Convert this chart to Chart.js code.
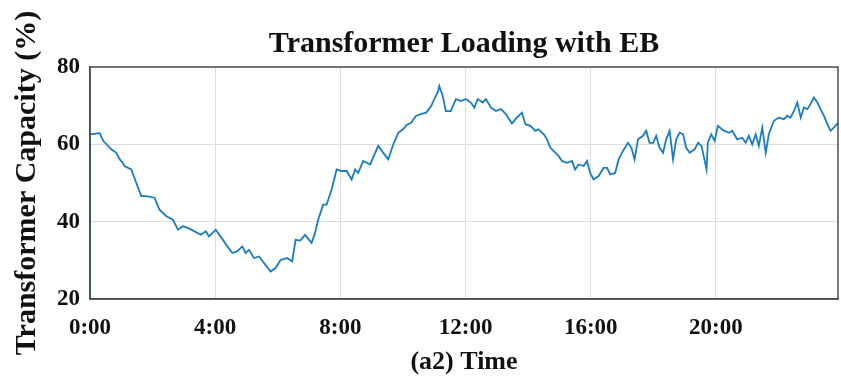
<!DOCTYPE html>
<html>
<head>
<meta charset="utf-8">
<script src="https://cdn.jsdelivr.net/npm/chart.js@4"></script>
<style>
html,body{margin:0;padding:0;background:#fff;}
#wrap{width:841px;height:376px;position:relative;}
</style>
</head>
<body>
<div id="wrap"><canvas id="c" width="841" height="376"></canvas></div>
<script>
const hours = [0, 0, 0.31, 0.42, 0.68, 0.84, 0.95, 1.05, 1.1, 1.32, 1.48, 1.64, 1.8, 2.06, 2.22, 2.44, 2.65, 2.81, 2.97, 3.13, 3.34,
  3.54, 3.7, 3.8, 4.02, 4.17, 4.39, 4.55, 4.7, 4.87, 4.97, 5.08, 5.24, 5.4, 5.56, 5.77, 5.93, 6.09, 6.3, 6.46, 6.57, 6.72,
  6.87, 7.08, 7.19, 7.29, 7.45, 7.56, 7.72, 7.88, 8.04, 8.2, 8.36, 8.47, 8.57, 8.73, 8.95, 9.21, 9.37, 9.53, 9.69, 9.85, 10.0, 10.12,
  10.26, 10.42, 10.58, 10.74, 10.9, 11.0, 11.11, 11.16, 11.27, 11.37, 11.53, 11.69, 11.85, 12.01, 12.17, 12.28, 12.39, 12.55, 12.65,
  12.81, 12.97, 13.13, 13.29, 13.48, 13.64, 13.8, 13.91, 14.07, 14.23, 14.33, 14.5, 14.6, 14.71, 14.81, 14.97, 15.08, 15.24, 15.4,
  15.5, 15.61, 15.77, 15.88, 15.98, 16.09, 16.25, 16.41, 16.52, 16.62, 16.78, 16.89, 17.03, 17.19, 17.3, 17.4, 17.51, 17.67, 17.77,
  17.88, 17.99, 18.09, 18.2, 18.31, 18.41, 18.52, 18.63, 18.73, 18.84, 18.95, 19.05, 19.16, 19.32, 19.43, 19.54, 19.7, 19.74, 19.85,
  19.96, 20.06, 20.24, 20.42, 20.52, 20.68, 20.84, 20.95, 21.05, 21.16, 21.27, 21.37, 21.48, 21.59, 21.69, 21.85, 22.01, 22.17, 22.28,
  22.38, 22.49, 22.6, 22.71, 22.81, 22.92, 23.02, 23.13, 23.24, 23.34, 23.45, 23.56, 23.66, 23.82, 23.9];
const loading = [20, 62.6, 62.9, 60.9, 58.7, 57.8, 56.1, 55.2, 54.4, 53.5, 50.0, 46.6, 46.6, 46.2, 43.1, 41.4, 40.5, 37.9, 38.8, 38.4, 37.5,
  36.6, 37.5, 36.2, 37.9, 36.2, 33.6, 31.9, 32.3, 33.6, 31.9, 32.7, 30.6, 31.0, 29.3, 27.1, 28.0, 30.1, 30.6, 29.7, 35.3, 35.1,
  36.6, 34.5, 37.1, 40.5, 44.4, 44.4, 48.3, 53.5, 53.1, 53.1, 50.9, 53.5, 52.6, 55.7, 54.8, 59.6, 57.8, 56.1, 60.0, 63.0, 63.9, 65.0,
  65.6, 67.4, 67.8, 68.2, 69.9, 71.7, 73.4, 75.1, 72.5, 68.6, 68.6, 71.7, 71.2, 71.7, 70.8, 69.5, 71.7, 70.8, 71.7,
  69.5, 68.6, 69.1, 67.8, 65.4, 66.9, 68.2, 65.2, 64.8, 63.5, 63.9, 62.6, 61.3, 59.1, 58.3, 57.0, 55.7, 55.2, 55.7,
  53.5, 54.8, 54.4, 55.7, 52.6, 50.9, 51.8, 53.9, 53.9, 52.2, 52.6, 56.1, 58.3, 60.4, 59.1, 56.1, 61.3, 62.2, 63.5,
  60.4, 60.4, 62.2, 59.1, 57.8, 61.3, 63.5, 56.1, 61.3, 63.0, 62.6, 59.1, 57.8, 58.7, 60.4, 59.6, 53.5, 60.4, 62.6,
  60.9, 64.8, 63.6, 63.0, 63.5, 61.3, 61.7, 60.4, 62.2, 60.0, 62.6, 59.6, 64.3, 57.8, 62.6, 66.1, 66.9, 66.5, 67.4,
  66.9, 68.6, 70.8, 66.9, 69.5, 69.1, 70.4, 72.1, 70.8, 69.1, 67.4, 65.2, 63.5, 64.8, 65.6];
const xTicks = [0, 4, 8, 12, 16, 20];
const yTicks = [20, 40, 60, 80];
const titleText = 'Transformer Loading with EB';
const xTitle = '(a2) Time';
const yTitle = 'Transformer Capacity (%)';

const SERIF = '"Liberation Serif", "Times New Roman", serif';
const points = hours.map((h, i) => ({x: h, y: loading[i]}));

const boxPlugin = {
  id: 'box',
  afterDatasetsDraw(chart) {
    const {ctx, chartArea: a} = chart;
    ctx.save();
    ctx.strokeStyle = '#4d4d4d';
    ctx.lineWidth = 1.5;
    ctx.strokeRect(a.left, a.top, a.right - a.left, a.bottom - a.top);
    ctx.restore();
  }
};

new Chart(document.getElementById('c'), {
  type: 'line',
  data: {
    datasets: [{
      data: points,
      borderColor: '#1a7cc2',
      borderWidth: 1.8,
      pointRadius: 0,
      tension: 0,
      fill: false
    }]
  },
  options: {
    responsive: false,
    animation: false,
    layout: {padding: {left: 0, right: 3, top: 0, bottom: 0}},
    plugins: {
      legend: {display: false},
      tooltip: {enabled: false},
      title: {
        display: true,
        fullSize: false,
        text: titleText,
        color: '#111',
        font: {family: SERIF, size: 30, weight: 'bold', lineHeight: 1.2},
        padding: {top: 26, bottom: 5}
      }
    },
    scales: {
      x: {
        type: 'linear',
        min: 0,
        max: 23.9,
        afterBuildTicks(s) { s.ticks = xTicks.map(v => ({value: v})); },
        afterFit(s) { s.height = 77; },
        ticks: {
          color: '#111',
          font: {family: SERIF, size: 23, weight: 'bold'},
          padding: 15,
          maxRotation: 0,
          callback: v => v + ':00'
        },
        grid: {color: '#dcdcdc', lineWidth: 1, drawTicks: false},
        border: {color: '#4d4d4d', width: 1.5},
        title: {
          display: true,
          text: xTitle,
          color: '#111',
          font: {family: SERIF, size: 26, weight: 'bold', lineHeight: 1.0},
          padding: {top: 0, bottom: 1}
        }
      },
      y: {
        min: 20,
        max: 80,
        afterBuildTicks(s) { s.ticks = yTicks.map(v => ({value: v})); },
        afterFit(s) { s.width = 90; },
        ticks: {
          color: '#111',
          font: {family: SERIF, size: 23, weight: 'bold'},
          padding: 10
        },
        grid: {color: '#dcdcdc', lineWidth: 1, drawTicks: false},
        border: {color: '#4d4d4d', width: 1.5},
        title: {
          display: true,
          text: yTitle,
          color: '#111',
          font: {family: SERIF, size: 30, weight: 'bold', lineHeight: 1.2},
          padding: {top: 9, bottom: 0}
        }
      }
    }
  },
  plugins: [boxPlugin]
});
</script>
</body>
</html>
